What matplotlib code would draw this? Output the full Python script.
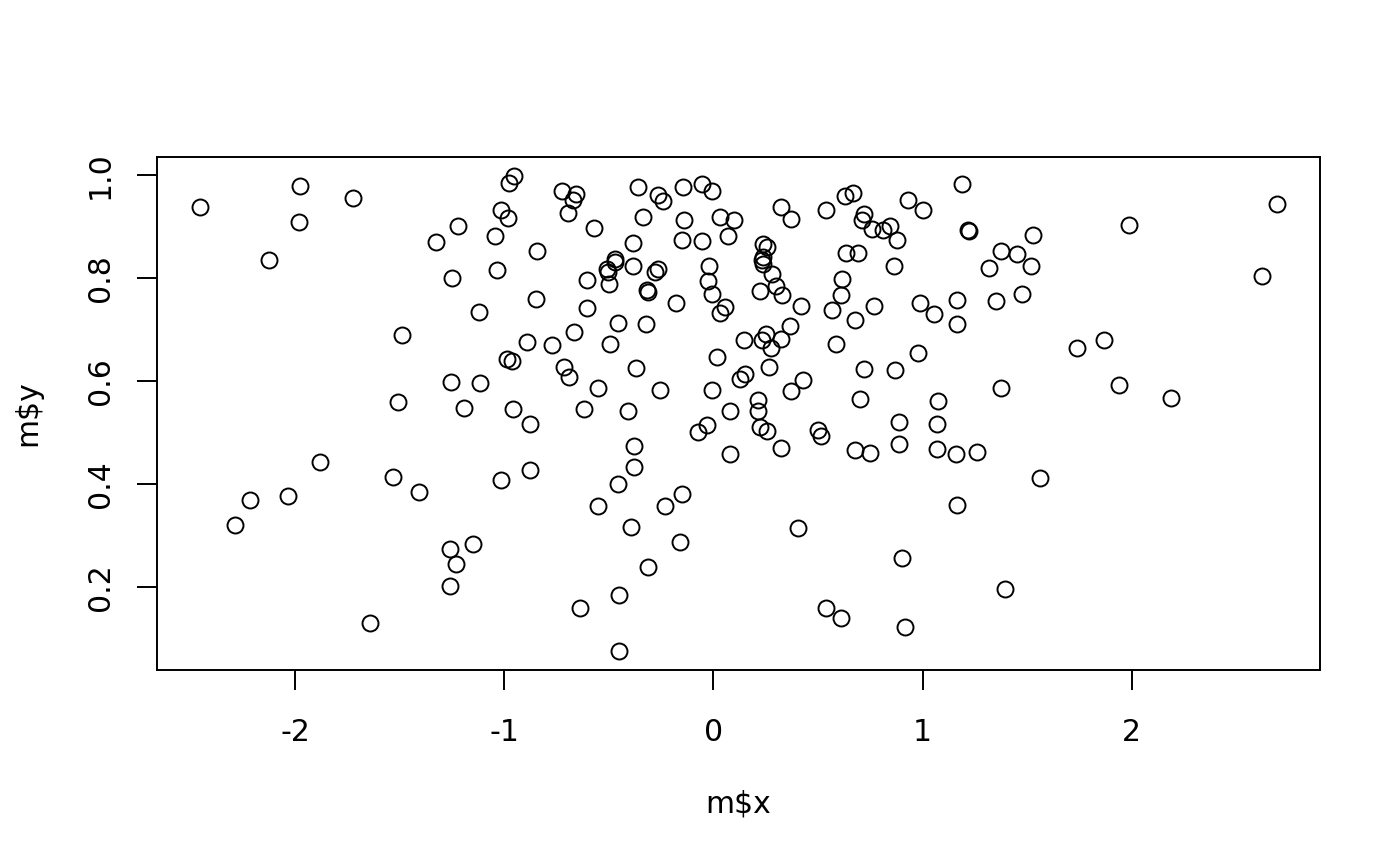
import numpy as np
import matplotlib
matplotlib.use("Agg")
import matplotlib.pyplot as plt

# values (m$x, m$y)
m_x = [
    -2.455, -1.976, -1.981, -1.722, -2.124, -1.220, -1.325, -1.249, -1.014, -0.981,
    -1.043, -1.033, -0.842, -0.976, -0.952, -1.120, -0.847, -1.488, -0.890, -0.770,
    -0.986, -0.962, -1.254, -1.115, -1.507, -1.191, -0.957, -0.876, -1.880, -1.531,
    -1.407, -2.215, -2.033, -2.287, -1.014, -0.876, -1.258, -1.148, -1.230, -1.258,
    -1.641, -0.722, -0.656, -0.670, -0.694, -0.569, -0.603, -0.603, -0.665, -0.455,
    -0.493, -0.321, -0.383, -0.359, -0.335, -0.263, -0.239, -0.469, -0.469, -0.507,
    -0.502, -0.498, -0.383, -0.263, -0.278, -0.316, -0.311, -0.177, -0.144, -0.057,
    -0.005, -0.139, 0.029, 0.100, 0.072, -0.148, -0.057, -0.019, -0.024, -0.005,
    0.057, 0.029, 0.225, 0.239, 0.254, 0.239, 0.234, 0.239, 0.282, 0.297,
    0.330, 0.325, 0.373, 0.421, 0.368, 0.325, 0.249, 0.230, 0.273, 0.144,
    0.019, 0.268, 0.153, 0.129, 0.426, 0.373, 0.215, 0.211, 0.081, -0.005,
    -0.254, -0.368, -0.550, -0.713, -0.689, -0.617, -0.407, 0.536, 0.627, 0.665,
    0.722, 0.708, 0.756, 0.813, 0.842, 0.880, 0.928, 1.000, 0.632, 0.689,
    0.861, 0.617, 0.612, 0.565, 0.766, 0.990, 1.053, 0.675, 0.584, 0.976,
    0.718, 0.866, 0.703, 1.072, -0.072, -0.033, 0.225, 0.254, 0.325, 0.498,
    0.512, 0.675, 0.751, 0.885, 0.885, 1.067, 1.067, 0.077, -0.378, -0.378,
    -0.455, -0.148, -0.550, -0.234, -0.392, 0.402, -0.158, 0.900, -0.311, -0.450,
    -0.636, 0.536, 0.612, 0.914, -0.450, 1.187, 1.215, 1.220, 1.526, 1.373,
    1.450, 1.316, 1.517, 1.474, 1.349, 1.167, 1.167, 1.737, 1.866, 1.373,
    1.938, 2.187, 1.986, 2.694, 2.622, 1.158, 1.258, 1.560, 1.167, 1.392,
]
m_y = [
    0.938, 0.979, 0.909, 0.955, 0.835, 0.901, 0.870, 0.800, 0.932, 0.917,
    0.882, 0.816, 0.852, 0.984, 0.998, 0.734, 0.759, 0.689, 0.676, 0.670,
    0.643, 0.639, 0.598, 0.596, 0.559, 0.548, 0.546, 0.517, 0.443, 0.414,
    0.384, 0.369, 0.377, 0.320, 0.408, 0.427, 0.274, 0.283, 0.245, 0.202,
    0.130, 0.969, 0.963, 0.951, 0.926, 0.897, 0.796, 0.742, 0.695, 0.713,
    0.672, 0.711, 0.868, 0.977, 0.918, 0.961, 0.950, 0.837, 0.831, 0.817,
    0.812, 0.788, 0.823, 0.817, 0.812, 0.777, 0.773, 0.751, 0.977, 0.983,
    0.969, 0.913, 0.918, 0.913, 0.882, 0.874, 0.872, 0.823, 0.794, 0.769,
    0.744, 0.732, 0.775, 0.866, 0.860, 0.841, 0.835, 0.827, 0.808, 0.784,
    0.767, 0.938, 0.915, 0.746, 0.707, 0.682, 0.691, 0.680, 0.664, 0.680,
    0.647, 0.627, 0.614, 0.604, 0.602, 0.581, 0.563, 0.542, 0.542, 0.583,
    0.583, 0.625, 0.586, 0.627, 0.608, 0.546, 0.542, 0.932, 0.959, 0.965,
    0.924, 0.913, 0.895, 0.893, 0.901, 0.874, 0.951, 0.932, 0.849, 0.849,
    0.823, 0.798, 0.767, 0.738, 0.746, 0.751, 0.730, 0.718, 0.672, 0.654,
    0.623, 0.621, 0.565, 0.561, 0.501, 0.515, 0.511, 0.503, 0.470, 0.505,
    0.493, 0.466, 0.460, 0.520, 0.478, 0.517, 0.468, 0.458, 0.474, 0.433,
    0.400, 0.381, 0.357, 0.357, 0.317, 0.315, 0.287, 0.256, 0.239, 0.184,
    0.159, 0.159, 0.140, 0.122, 0.076, 0.983, 0.893, 0.891, 0.883, 0.852,
    0.847, 0.819, 0.823, 0.769, 0.755, 0.757, 0.711, 0.664, 0.680, 0.586,
    0.592, 0.567, 0.903, 0.944, 0.804, 0.458, 0.462, 0.412, 0.359, 0.196,
]
x_ticks = [-2, -1, 0, 1, 2]
y_ticks = [0.2, 0.4, 0.6, 0.8, 1.0]

fig = plt.figure(figsize=(14, 8.66), dpi=100)
ax = fig.add_axes([0.1121, 0.2263, 0.8307, 0.5924])

ax.plot(m_x, m_y, linestyle="none", marker="o", markersize=11.5,
        markerfacecolor="none", markeredgecolor="black", markeredgewidth=1.4)

# R style axis limits: data range padded by 4 %
xr = max(m_x) - min(m_x)
yr = max(m_y) - min(m_y)
ax.set_xlim(min(m_x) - 0.04 * xr, max(m_x) + 0.04 * xr)
ax.set_ylim(min(m_y) - 0.04 * yr, max(m_y) + 0.04 * yr)

ax.set_xticks(x_ticks)
ax.set_xticklabels([str(t) for t in x_ticks])
ax.set_yticks(y_ticks)
ax.set_yticklabels(["%.1f" % t for t in y_ticks], rotation=90, va="center")

for s in ax.spines.values():
    s.set_linewidth(1.4)
ax.tick_params(direction="out", length=14.4, width=1.4, labelsize=21.5)
ax.tick_params(axis="x", pad=20)
ax.tick_params(axis="y", pad=16)

ax.set_xlabel("m$x", fontsize=21.5, labelpad=31)
ax.set_ylabel("m$y", fontsize=21.5, labelpad=31)

fig.savefig("out.png", dpi=100)
